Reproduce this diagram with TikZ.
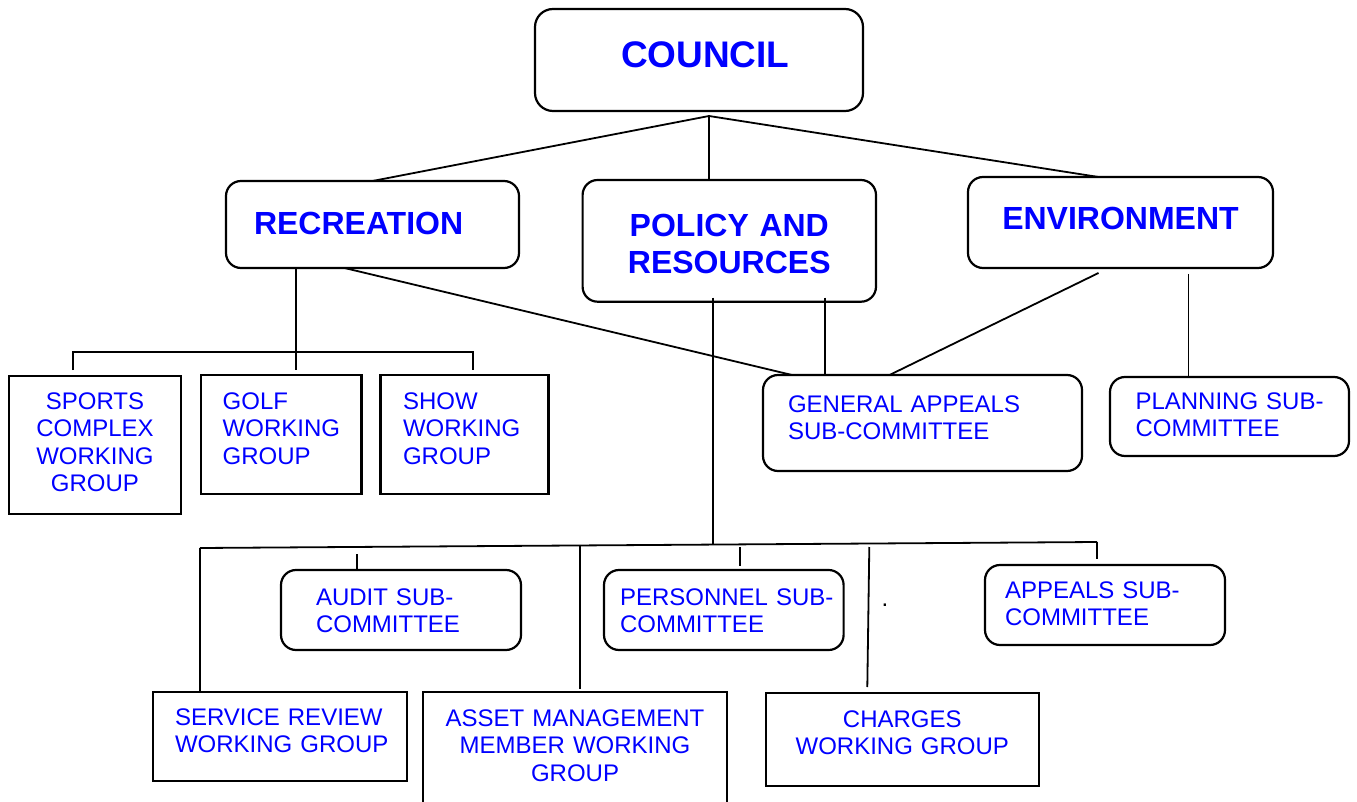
\documentclass[tikz,border=0pt]{standalone}
\usepackage{fontspec}
\setmainfont{Liberation Sans}
\newcommand\councilfont{\fontsize{37}{42}\selectfont\bfseries}
\newcommand\headfont{\fontsize{32}{37}\selectfont\bfseries}
\newcommand\subfont{\fontsize{24}{27.6}\selectfont}

\begin{document}
\begin{tikzpicture}[x=1pt,y=-1pt,
    panel/.style={draw, line width=2.2pt, anchor=north west, outer sep=0pt, inner ysep=0pt, text=blue},
    rpanel/.style={panel, rounded corners=15pt},
    link/.style={line width=1.8pt}]

    \useasboundingbox (0,0) rectangle (1357,802);

    % committees
    \node[rpanel, rounded corners=18pt, font=\councilfont, align=left, inner xsep=86pt, text width=156pt, text height=59pt, text depth=43pt] (council) at (535,9) {COUNCIL};
    \node[rpanel, font=\headfont, align=left, inner xsep=28pt, text width=237pt, text height=54pt, text depth=33pt] (recreation) at (226,181) {RECREATION};
    \node[rpanel, font=\headfont, align=center, inner xsep=10pt, text width=273.4pt, text height=57pt, text depth=64.7pt] (policy) at (582.6,180) {POLICY AND\\RESOURCES};
    \node[rpanel, font=\headfont, align=center, inner xsep=10pt, text width=285pt, text height=53pt, text depth=38pt] (environment) at (968,177) {ENVIRONMENT};

    % sub-committees and working groups
    \node[panel, font=\subfont, align=center, inner xsep=10pt, text width=152pt, text height=33pt, text depth=105pt] (sports) at (9,376) {SPORTS\\COMPLEX\\WORKING\\GROUP};
    \node[panel, font=\subfont, align=left, inner xsep=22pt, text width=116.7pt, text height=34pt, text depth=85pt] (golf) at (200.7,375) {GOLF\\WORKING\\GROUP};
    \node[panel, font=\subfont, align=left, inner xsep=22.6pt, text width=122.8pt, text height=34pt, text depth=85pt] (show) at (380.4,375) {SHOW\\WORKING\\GROUP};
    \node[rpanel, font=\subfont, align=left, inner xsep=25pt, text width=269pt, text height=37pt, text depth=59pt] (genappeals) at (763,375) {\mbox{GENERAL APPEALS}\\\mbox{SUB-COMMITTEE}};
    \node[rpanel, font=\subfont, align=left, inner xsep=25.5pt, text width=188pt, text height=32pt, text depth=47pt] (planning) at (1110,377) {\mbox{PLANNING SUB-}\\COMMITTEE};
    \node[rpanel, font=\subfont, align=left, inner xsep=35pt, text width=170pt, text height=35pt, text depth=45pt] (audit) at (281,570) {\mbox{AUDIT SUB-}\\COMMITTEE};
    \node[rpanel, font=\subfont, align=left, inner xsep=16pt, text width=207.6pt, text height=35pt, text depth=45pt] (personnel) at (604,570) {\mbox{PERSONNEL SUB-}\\COMMITTEE};
    \node[rpanel, font=\subfont, align=left, inner xsep=20pt, text width=200pt, text height=33pt, text depth=47pt] (appeals) at (985,565) {\mbox{APPEALS SUB-}\\COMMITTEE};
    \node[panel, font=\subfont, align=left, inner xsep=22.4pt, text width=209.6pt, text height=33.3pt, text depth=55.7pt] (servrev) at (152.6,691.7) {\mbox{SERVICE REVIEW}\\\mbox{WORKING GROUP}};
    \node[panel, font=\subfont, align=center, inner xsep=10pt, text width=284pt, text height=34pt, text depth=86pt] (assetmgmt) at (423,692) {ASSET MANAGEMENT\\MEMBER WORKING\\GROUP};
    \node[panel, font=\subfont, align=center, inner xsep=10pt, text width=252.6pt, text height=34pt, text depth=59pt] (charges) at (766,693) {CHARGES\\WORKING GROUP};
    \node[font=\subfont, anchor=base, inner sep=0pt] (dot) at (885,606) {.};

    % council to committees
    \coordinate (hub) at (709,116);
    \draw[link] (hub) -- (recreation.north);
    \draw[link] (hub) -- (hub |- policy.north);
    \draw[link] (hub) -- ([xshift=-22pt]environment.north);

    % recreation groups
    \coordinate (recbar) at (296,352);
    \coordinate (sportstick) at (73,370);
    \coordinate (showtick) at (473,370);
    \draw[link] (recbar |- recreation.south) -- (recbar |- showtick);
    \draw[link] (sportstick) |- (recbar) -| (showtick);
    \draw[link] ([xshift=-28pt]recreation.south) -- ([xshift=29pt]genappeals.north west);

    % policy and environment to their sub-committees
    \coordinate (polga) at ([xshift=96pt,yshift=4pt]policy.south);
    \draw[link] (polga) -- (polga |- genappeals.north);
    \draw[link] ([xshift=-22pt,yshift=-5pt]environment.south) -- ([xshift=-33pt]genappeals.north);
    \coordinate (envpl) at ([xshift=-41pt]planning.north);
    \coordinate (envbase) at ([yshift=-6pt]environment.south);
    \draw[link] (envpl |- envbase) -- (envpl);

    % policy bus
    \coordinate (polbase) at ([yshift=4pt]policy.south);
    \coordinate (busmid) at (713,545);
    \coordinate (busleft) at (200,548);
    \coordinate (busright) at (1097,542);
    \draw[link] (busmid |- polbase) -- (busmid);
    \draw[link] (busleft) -- (busright);
    \draw[link] (busleft) -- (busleft |- servrev.north);
    \draw[link] ([xshift=-44pt,yshift=16pt]audit.north) -- ([xshift=-44pt]audit.north);
    \draw[link] ([xshift=5pt,yshift=146pt]assetmgmt.north) -- ([xshift=5pt,yshift=3pt]assetmgmt.north);
    \draw[link] ([xshift=16pt,yshift=23pt]personnel.north) -- ([xshift=16pt,yshift=4pt]personnel.north);
    \draw[link] ([xshift=-33pt,yshift=146pt]charges.north) -- ([xshift=-35pt,yshift=6pt]charges.north);
    \draw[link] (busright) -- ([xshift=-8pt,yshift=6pt]appeals.north);

\end{tikzpicture}
\end{document}
